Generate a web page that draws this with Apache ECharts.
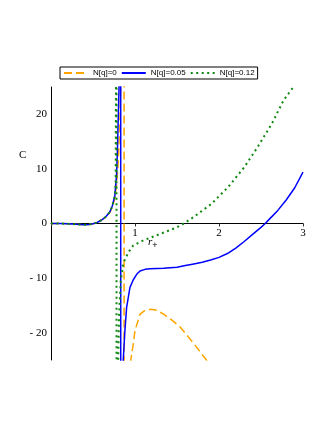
<!DOCTYPE html>
<html>
<head>
<meta charset="utf-8">
<script src="https://cdn.jsdelivr.net/npm/echarts@6/dist/echarts.min.js"></script>
<style>
html, body { margin: 0; padding: 0; background: #fff; }
#main { width: 331px; height: 429px; }
</style>
</head>
<body>
<div id="main"></div>
<script>
// legend names
var names = ['N[q]=0', 'N[q]=0.05', 'N[q]=0.12'];

// N[q]=0 (orange, dashed) -- the +-60 pair is the pole jump drawn by the plotter
var x0 = [0, 0.1, 0.2, 0.3, 0.4, 0.45, 0.5, 0.55, 0.6, 0.65, 0.7, 0.73, 0.76, 0.78, 0.8, 0.81, 0.82, 0.83, 0.87, 0.87,
          0.95, 0.98, 1.0, 1.06, 1.12, 1.19, 1.26, 1.34, 1.44, 1.54, 1.69, 1.85, 1.9];
var c0 = [0, 0, -0.05, -0.15, -0.25, -0.2, -0.05, 0.2, 0.6, 1.2, 2.0, 3.0, 4.6, 7.0, 11, 14.5, 19, 25, 60, -60,
          -25, -22, -19.6, -16.6, -15.9, -15.7, -15.9, -16.6, -17.7, -19, -21.8, -25, -26.2];

// N[q]=0.05 (blue, solid)
var x1 = [0, 0.1, 0.2, 0.3, 0.4, 0.45, 0.5, 0.55, 0.6, 0.65, 0.7, 0.73, 0.76, 0.78, 0.79, 0.8, 0.81, 0.83, 0.83,
          0.86, 0.88, 0.9, 0.94, 0.98, 1.02, 1.06, 1.12, 1.18, 1.34, 1.5, 1.6, 1.7, 1.8, 1.9, 2.0, 2.1, 2.2, 2.3,
          2.4, 2.5, 2.55, 2.6, 2.7, 2.8, 2.9, 3.0];
var c1 = [0, 0, -0.05, -0.15, -0.25, -0.2, -0.05, 0.2, 0.6, 1.2, 2.1, 3.2, 5.1, 8.8, 13, 19, 25, 60, -60,
          -25, -19.6, -15.4, -11.7, -10.3, -9.3, -8.7, -8.4, -8.3, -8.2, -8.0, -7.7, -7.4, -7.1, -6.7, -6.2, -5.5,
          -4.5, -3.3, -2.0, -0.7, 0, 0.8, 2.4, 4.3, 6.5, 9.4];

// N[q]=0.12 (green, dotted)
var x2 = [0, 0.1, 0.2, 0.3, 0.4, 0.45, 0.5, 0.55, 0.6, 0.65, 0.7, 0.73, 0.76, 0.77, 0.78, 0.78, 0.79, 0.8, 0.81,
          0.83, 0.86, 0.88, 0.92, 0.98, 1.1, 1.3, 1.5, 1.56, 1.7, 1.91, 2.11, 2.3, 2.46, 2.63, 2.77, 2.89, 2.95];
var c2 = [0, 0, -0.05, -0.15, -0.25, -0.2, -0.05, 0.2, 0.6, 1.2, 2.1, 3.2, 5.1, 7.5, 60, -60, -40, -25, -17,
          -10.5, -7.5, -6.6, -5.3, -4.0, -3.1, -1.9, -0.7, -0.2, 1.2, 3.6, 6.7, 10.3, 14.0, 18.3, 22.6, 25.1, 27];

// axis ranges / ticks
var xTicks = [0, 1, 2, 3];
var yTicks = [-20, -10, 0, 10, 20];
var yMin = -25, yMax = 25;

function pairs(xs, ys) {
    return xs.map(function (x, i) { return [x, ys[i]]; });
}

var plotH = 429 - 87 - 69;
// x axis sits on C = 0, so push it up from the bottom of the grid
var xOffset = -plotH * (0 - yMin) / (yMax - yMin);

var myChart = echarts.init(document.getElementById('main'));
myChart.setOption({
    animation: false,
    backgroundColor: '#fff',
    grid: { left: 51, right: 28, top: 87, bottom: 69 },
    legend: {
        data: names,
        left: 60,
        top: 67,
        backgroundColor: '#fff',
        borderColor: '#000',
        borderWidth: 1,
        padding: [2, 3],
        itemGap: 4,
        itemWidth: 24,
        itemHeight: 8,
        itemStyle: { opacity: 0 },
        textStyle: { fontSize: 8, fontFamily: 'Liberation Sans', color: '#000' }
    },
    xAxis: {
        type: 'value',
        position: 'bottom',
        offset: xOffset,
        min: xTicks[0],
        max: xTicks[xTicks.length - 1],
        interval: 1,
        axisLine: { onZero: false, lineStyle: { color: '#000', width: 1 } },
        axisTick: { show: true, length: 3, lineStyle: { color: '#333' } },
        axisLabel: {
            margin: 4,
            color: '#000',
            fontFamily: 'Liberation Serif',
            fontSize: 11,
            formatter: function (v) { return v === 0 ? '' : String(v); }
        },
        splitLine: { show: false }
    },
    yAxis: {
        type: 'value',
        min: yMin,
        max: yMax,
        interval: 5,
        axisLine: { show: true, lineStyle: { color: '#000', width: 1 } },
        axisTick: { show: false },
        axisLabel: {
            margin: 4,
            color: '#000',
            fontFamily: 'Liberation Serif',
            fontSize: 11,
            formatter: function (v) {
                if (yTicks.indexOf(v) < 0) return '';
                return v < 0 ? '- ' + (-v) : String(v);
            }
        },
        splitLine: { show: false }
    },
    graphic: [
        { type: 'text', left: 19, top: 150, style: { text: 'C', font: '11px "Liberation Serif"', fill: '#000' } },
        {
            type: 'text', left: 148, top: 237,
            style: {
                text: '{r|r}{s|+}',
                fill: '#000',
                rich: {
                    r: { fontFamily: 'Liberation Serif', fontStyle: 'italic', fontSize: 11, fill: '#000' },
                    s: { fontFamily: 'Liberation Sans', fontSize: 9, padding: [7, 0, 0, 0], fill: '#000' }
                }
            }
        }
    ],
    series: [{
        name: names[0],
        type: 'line',
        symbol: 'none',
        clip: true,
        data: pairs(x0, c0),
        lineStyle: { color: '#FFA500', width: 1.5, type: [8, 4] },
        itemStyle: { color: '#FFA500' }
    }, {
        name: names[1],
        type: 'line',
        symbol: 'none',
        clip: true,
        data: pairs(x1, c1),
        lineStyle: { color: '#0000FF', width: 1.5, type: 'solid' },
        itemStyle: { color: '#0000FF' }
    }, {
        name: names[2],
        type: 'line',
        symbol: 'none',
        clip: true,
        data: pairs(x2, c2),
        lineStyle: { color: '#118811', width: 2, type: [2, 3.5] },
        itemStyle: { color: '#118811' }
    }]
});
</script>
</body>
</html>
